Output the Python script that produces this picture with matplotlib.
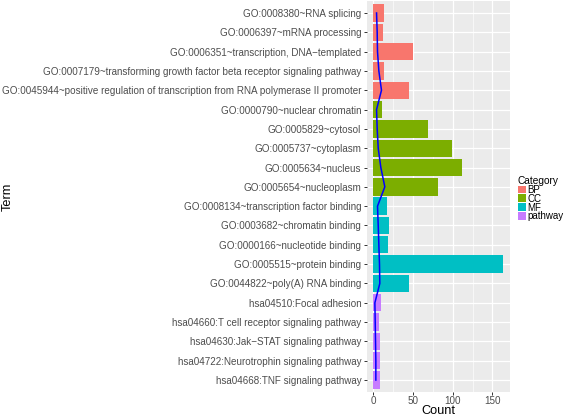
"""Enrichment bar chart: GO terms and KEGG pathways, count per term."""

import matplotlib

matplotlib.use("Agg")
import matplotlib.pyplot as plt
from matplotlib.patches import Patch

TERMS = [
    "GO:0008380~RNA splicing",
    "GO:0006397~mRNA processing",
    "GO:0006351~transcription, DNA\u2212templated",
    "GO:0007179~transforming growth factor beta receptor signaling pathway",
    "GO:0045944~positive regulation of transcription from RNA polymerase II promoter",
    "GO:0000790~nuclear chromatin",
    "GO:0005829~cytosol",
    "GO:0005737~cytoplasm",
    "GO:0005634~nucleus",
    "GO:0005654~nucleoplasm",
    "GO:0008134~transcription factor binding",
    "GO:0003682~chromatin binding",
    "GO:0000166~nucleotide binding",
    "GO:0005515~protein binding",
    "GO:0044822~poly(A) RNA binding",
    "hsa04510:Focal adhesion",
    "hsa04660:T cell receptor signaling pathway",
    "hsa04630:Jak\u2212STAT signaling pathway",
    "hsa04722:Neurotrophin signaling pathway",
    "hsa04668:TNF signaling pathway",
]
CATEGORY = ["BP"] * 5 + ["CC"] * 5 + ["MF"] * 5 + ["pathway"] * 5
COUNTS = [14, 12, 50, 13, 45, 11, 69, 99, 112, 82, 17, 20, 19, 164, 45, 10, 7, 9, 9, 9]
LINE_VALUES = [4.2, 5.0, 5.4, 7.1, 10.4, 4.2, 5.0, 6.3, 9.6, 14.6,
               5.4, 6.3, 7.1, 7.9, 8.3, 2.1, 2.5, 2.9, 3.3, 3.3]
CATEGORIES = ["BP", "CC", "MF", "pathway"]
X_TICKS = [0, 50, 100, 150]

COLORS = {"BP": "#F8766D", "CC": "#7CAE00", "MF": "#00BFC4", "pathway": "#C77CFF"}

W, H = 567, 417


def main() -> None:
    plt.rcParams["font.family"] = ["Liberation Sans", "DejaVu Sans"]
    fig = plt.figure(figsize=(W / 100, H / 100), dpi=100)
    left, right, top, bottom = 366.7, 510.0, 1.4, 391.6
    ax = fig.add_axes([left / W, 1 - bottom / H, (right - left) / W, (bottom - top) / H])
    ax.set_facecolor("#EBEBEB")
    for spine in ax.spines.values():
        spine.set_visible(False)

    pos = list(range(len(TERMS)))
    ax.barh(pos, COUNTS, height=0.9, color=[COLORS[c] for c in CATEGORY], zorder=2)
    ax.plot(LINE_VALUES, pos, color="#0000FF", linewidth=1.1, zorder=3)

    top_val = max(COUNTS)
    ax.set_xlim(-0.05 * top_val, 1.05 * top_val)
    ax.set_ylim(len(TERMS) - 0.4, -0.6)

    ax.set_xticks(X_TICKS)
    ax.set_xticks([25, 75, 125], minor=True)
    ax.set_yticks(pos)
    ax.set_yticklabels(TERMS)
    ax.grid(which="major", color="white", linewidth=0.9, zorder=0)
    ax.grid(which="minor", axis="x", color="white", linewidth=0.45, zorder=0)
    ax.set_axisbelow(True)
    ax.tick_params(axis="both", which="major", length=2.4, width=0.7,
                   color="#333333", labelcolor="#4D4D4D", pad=1.5, labelsize=7.1)
    ax.tick_params(axis="x", pad=0.8)
    ax.tick_params(which="minor", length=0)

    ax.set_xlabel("Count", fontsize=9.2)
    ax.set_ylabel("Term", fontsize=9.2)
    ax.xaxis.set_label_coords(0.5, -(411 - bottom) / (bottom - top))
    ax.xaxis.label.set_va("center")
    ax.yaxis.set_label_coords((7.5 - left) / (right - left), 0.5)
    ax.yaxis.label.set_va("center")

    handles = [Patch(facecolor=COLORS[c], edgecolor="none", label=c) for c in CATEGORIES]
    fig.legend(
        handles=handles,
        title="Category",
        loc="upper left",
        bbox_to_anchor=(518 / W, 1 - 176 / H),
        frameon=False,
        fontsize=7,
        title_fontsize=7.3,
        handlelength=0.85,
        handleheight=0.85,
        handletextpad=0.15,
        labelspacing=-0.12,
        borderpad=0,
        borderaxespad=0,
        alignment="left",
    )

    fig.savefig("out.png", dpi=100)


if __name__ == "__main__":
    main()
